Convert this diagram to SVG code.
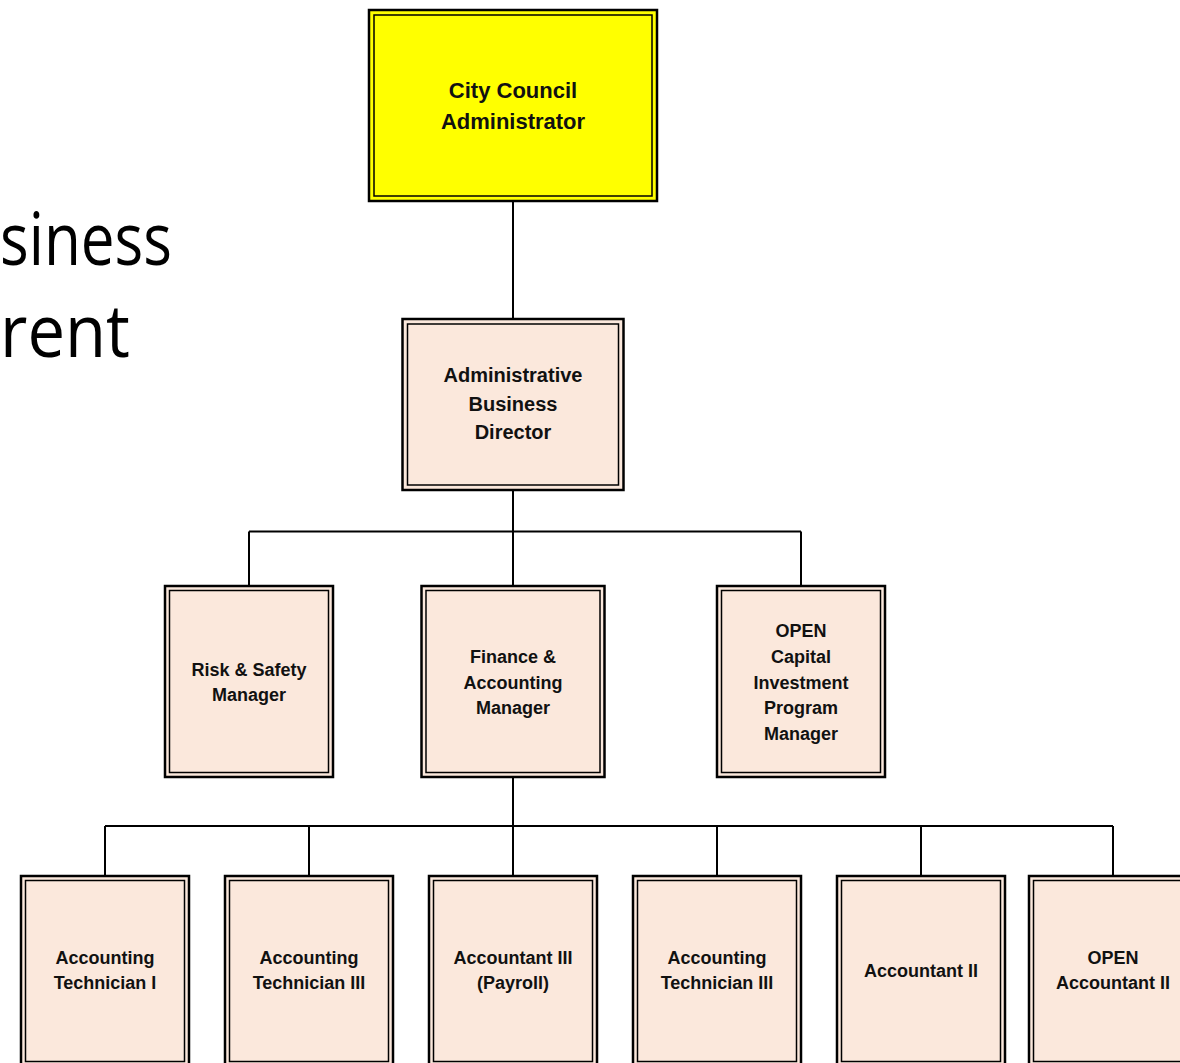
<svg xmlns="http://www.w3.org/2000/svg" width="1180" height="1063" viewBox="0 0 1180 1063">
<style>
.bg{fill:#ffffff}
.outer{stroke:#000;stroke-width:2.5;fill:#FBE8DC}
.inner{stroke:#000;stroke-width:1.5;fill:none}
.yel{fill:#FFFF00}
.conn{stroke:#000;stroke-width:2;fill:none}
.t{font-family:"Liberation Sans",Arial,sans-serif;font-weight:bold;fill:#111;text-anchor:middle}
.t22{font-size:22px}
.t20{font-size:20px}
.t18{font-size:18px}
.big{font-family:"Open Sans","Liberation Sans",sans-serif;font-size:74px;fill:#000}
</style>
<rect class="bg" x="0" y="0" width="1180" height="1063"/>
<g id="bg-text">
<text class="big" x="0" y="265" textLength="172" lengthAdjust="spacingAndGlyphs">siness</text>
<text class="big" x="0" y="357" textLength="130" lengthAdjust="spacingAndGlyphs">rent</text>
</g>
<g id="connectors">
<path class="conn" d="M513 202V319"/>
<path class="conn" d="M513 490V586M249 531.5H801M249 531.5V586M801 531.5V586"/>
<path class="conn" d="M513 778V876M105 826H1113M105 826V876M309 826V876M717 826V876M921 826V876M1113 826V876"/>
</g>
<g id="n-city">
<rect class="outer yel" x="369" y="10" width="288" height="191"/>
<rect class="inner" x="374" y="15" width="278" height="181"/>
<text class="t t22" x="513" y="98">City Council</text>
<text class="t t22" x="513" y="129">Administrator</text>
</g>
<g id="n-abd">
<rect class="outer" x="402.5" y="319" width="221" height="171"/>
<rect class="inner" x="407.5" y="324" width="211" height="161"/>
<text class="t t20" x="513" y="382">Administrative</text>
<text class="t t20" x="513" y="411">Business</text>
<text class="t t20" x="513" y="439">Director</text>
</g>
<g id="n-risk">
<rect class="outer" x="165" y="586" width="168" height="191"/>
<rect class="inner" x="169.5" y="590.5" width="159" height="182"/>
<text class="t t18" x="249" y="676">Risk &amp; Safety</text>
<text class="t t18" x="249" y="701">Manager</text>
</g>
<g id="n-finance">
<rect class="outer" x="421.5" y="586" width="183" height="191"/>
<rect class="inner" x="426" y="590.5" width="174" height="182"/>
<text class="t t18" x="513" y="663">Finance &amp;</text>
<text class="t t18" x="513" y="689">Accounting</text>
<text class="t t18" x="513" y="714">Manager</text>
</g>
<g id="n-capital">
<rect class="outer" x="717" y="586" width="168" height="191"/>
<rect class="inner" x="721.5" y="590.5" width="159" height="182"/>
<text class="t t18" x="801" y="637">OPEN</text>
<text class="t t18" x="801" y="663">Capital</text>
<text class="t t18" x="801" y="689">Investment</text>
<text class="t t18" x="801" y="714">Program</text>
<text class="t t18" x="801" y="740">Manager</text>
</g>
<g id="n-tech1">
<rect class="outer" x="21" y="876" width="168" height="190"/>
<rect class="inner" x="25.5" y="880.5" width="159" height="181"/>
<text class="t t18" x="105" y="964">Accounting</text>
<text class="t t18" x="105" y="989">Technician I</text>
</g>
<g id="n-tech3a">
<rect class="outer" x="225" y="876" width="168" height="190"/>
<rect class="inner" x="229.5" y="880.5" width="159" height="181"/>
<text class="t t18" x="309" y="964">Accounting</text>
<text class="t t18" x="309" y="989">Technician III</text>
</g>
<g id="n-acc3">
<rect class="outer" x="429" y="876" width="168" height="190"/>
<rect class="inner" x="433.5" y="880.5" width="159" height="181"/>
<text class="t t18" x="513" y="964">Accountant III</text>
<text class="t t18" x="513" y="989">(Payroll)</text>
</g>
<g id="n-tech3b">
<rect class="outer" x="633" y="876" width="168" height="190"/>
<rect class="inner" x="637.5" y="880.5" width="159" height="181"/>
<text class="t t18" x="717" y="964">Accounting</text>
<text class="t t18" x="717" y="989">Technician III</text>
</g>
<g id="n-acc2">
<rect class="outer" x="837" y="876" width="168" height="190"/>
<rect class="inner" x="841.5" y="880.5" width="159" height="181"/>
<text class="t t18" x="921" y="977">Accountant II</text>
</g>
<g id="n-open-acc2">
<rect class="outer" x="1029" y="876" width="168" height="190"/>
<rect class="inner" x="1033.5" y="880.5" width="159" height="181"/>
<text class="t t18" x="1113" y="964">OPEN</text>
<text class="t t18" x="1113" y="989">Accountant II</text>
</g>
</svg>
